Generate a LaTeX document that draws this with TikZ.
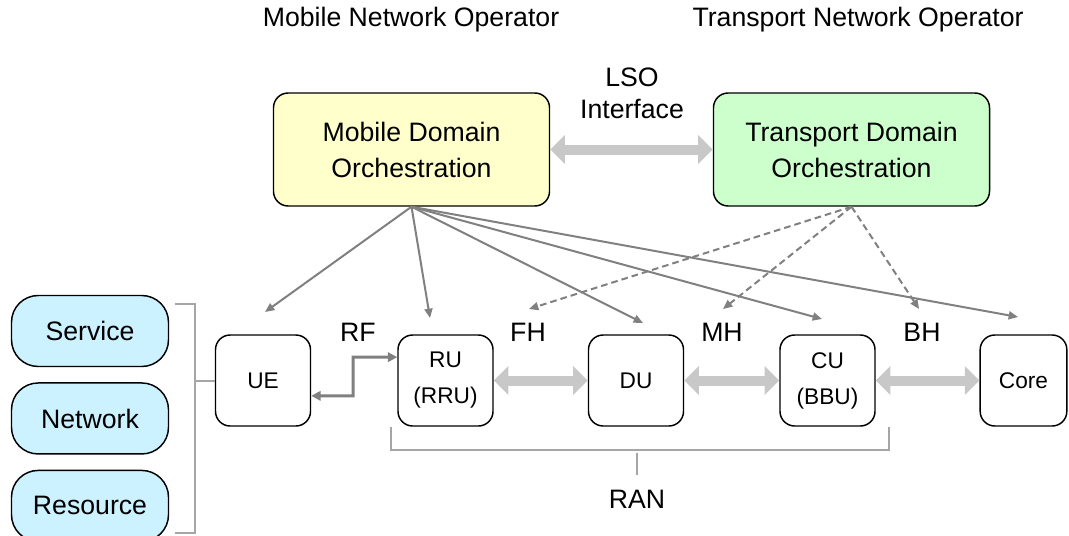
\documentclass[tikz,border=0pt]{standalone}
\usepackage{fontspec}
\setmainfont{Liberation Sans}
\usetikzlibrary{positioning, arrows.meta, calc}
\definecolor{MobileYellow}{RGB}{255,255,204}
\definecolor{TransportGreen}{RGB}{204,255,204}
\definecolor{LayerBlue}{RGB}{204,242,255}
\definecolor{LinkGray}{RGB}{128,128,128}
\definecolor{PipeGray}{RGB}{200,200,200}
\definecolor{BracketGray}{RGB}{166,166,166}
\tikzset{
    orchnode/.style={
        draw, line width=1.1pt, rounded corners=11pt, minimum width=207pt,
        minimum height=84.75pt, inner sep=0pt, align=center,
        font=\fontsize{20}{27}\selectfont
    },
    layernode/.style={
        draw, line width=1.1pt, fill=LayerBlue, rounded corners=20pt,
        minimum width=117.75pt, minimum height=53.25pt, inner sep=0pt,
        font=\fontsize{20}{24}\selectfont
    },
    elemnode/.style={
        draw, line width=1.1pt, rounded corners=11pt, minimum width=71.25pt,
        minimum height=68.25pt, inner sep=0pt, align=center,
        font=\fontsize{17}{27}\selectfont
    },
    labelnode/.style={
        inner sep=0pt, align=center, font=\fontsize{20}{24}\selectfont
    },
    ctrl/.style={
        -{Triangle[length=7pt,width=6pt]}, line width=1.5pt, LinkGray
    },
    ctrldash/.style={
        ctrl, dash pattern=on 5pt off 3pt
    },
    pipe/.style={
        {Triangle[length=11pt,width=21pt]}-{Triangle[length=11pt,width=21pt]},
        line width=7.5pt, PipeGray
    },
    rflink/.style={
        {Triangle[length=7pt,width=7pt]}-{Triangle[length=7pt,width=7pt]},
        line width=2.25pt, LinkGray
    },
    bracketline/.style={
        line width=1.5pt, BracketGray
    }
}

\begin{document}
\begin{tikzpicture}[x=0.75pt, y=-0.75pt]
    \useasboundingbox (0,0) rectangle (1069,535);

    % --- Operators and orchestration ---
    \node[labelnode] (mno) at (411,20) {Mobile Network Operator};
    \node[labelnode] (tno) at (858,20) {Transport Network Operator};
    \node[orchnode, fill=MobileYellow] (mdo) at (411.5,149.5) {Mobile Domain\\Orchestration};
    \node[orchnode, fill=TransportGreen] (tdo) at (851.5,149.5) {Transport Domain\\Orchestration};
    \node[labelnode] (lso) at (632,93) {LSO\\Interface};
    \draw[pipe] (mdo) -- (tdo);

    % --- Layers ---
    \node[layernode] (service) at (90,331) {Service};
    \node[layernode, below=11.25pt of service] (network) {Network};
    \node[layernode, below=11.25pt of network] (resource) {Resource};
    \draw[bracketline] (175,304) -- (195,304) -- (195,533) -- (175,533);

    % --- Network elements ---
    \node[elemnode] (ue) at (263,380.5) {UE};
    \node[elemnode] (ru) at (445.5,380.5) {RU\\(RRU)};
    \node[elemnode] (du) at (636,380.5) {DU};
    \node[elemnode] (cu) at (827.5,380.5) {CU\\(BBU)};
    \node[elemnode, minimum width=65pt] (core) at (1023.5,380.5) {Core};
    \draw[bracketline] (195,0 |- ue.west) -- (ue.west);

    % Links
    \node[labelnode] (rf) at (358,332) {RF};
    \node[labelnode] (fh) at (528,332) {FH};
    \node[labelnode] (mh) at (722,332) {MH};
    \node[labelnode] (bh) at (922,332) {BH};
    \coordinate (rfbend) at (353,357);
    \draw[rflink] ([yshift=-11.5pt]ue.east) -| (rfbend) -- ([yshift=17.5pt]ru.west);
    \draw[pipe] (ru) -- (du);
    \draw[pipe] (du) -- (cu);
    \draw[pipe] (cu) -- (core);

    % RAN
    \node[labelnode] (ran) at (637,499) {RAN};
    \draw[bracketline] (391,427) -- (391,450) -- (889,450) -- (889,427);
    \draw[bracketline] (637,453) -- (637,475);

    % --- Control arrows ---
    \coordinate (toue) at (265,312);
    \coordinate (toru) at (430,318);
    \coordinate (todu) at (643,323);
    \coordinate (tocu) at (822,319);
    \coordinate (tocore) at (1018,317);
    \coordinate (tofh) at (529,309);
    \coordinate (tomh) at (723,309);
    \coordinate (tobh) at (919,309);
    \foreach \t in {toue,toru,todu,tocu,tocore}
        \draw[ctrl] (mdo.south) -- (\t);
    \foreach \t in {tofh,tomh,tobh}
        \draw[ctrldash] (tdo.south) -- (\t);
\end{tikzpicture}
\end{document}
